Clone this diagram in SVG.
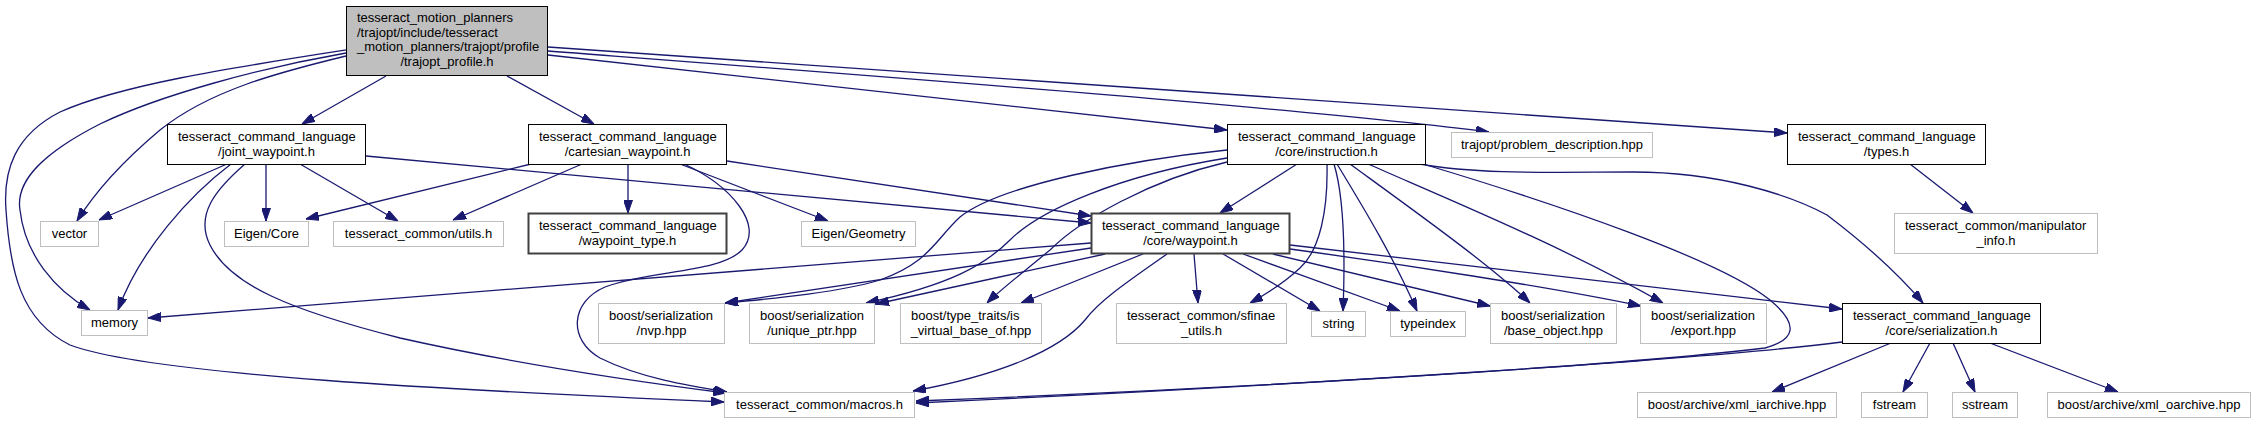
<svg xmlns="http://www.w3.org/2000/svg" width="2256" height="424" viewBox="0 0 2256 424">
<style>
text{font-family:"Liberation Sans",Arial,Helvetica,sans-serif;font-size:13px;fill:#000}
.c{text-anchor:middle}
.l{text-anchor:start}
rect{stroke-width:1}
.main rect{fill:#bfbfbf;stroke:#000}
.doc rect{fill:#fff;stroke:#000}
.dark rect{fill:#fff;stroke:#404040;stroke-width:2}
.ext rect{fill:#fff;stroke:#bfbfbf}
#edges path{fill:none;stroke:#191970;stroke-width:1.3;marker-end:url(#ah)}
</style>
<defs>
<marker id="ah" viewBox="0 0 13 9" refX="13" refY="4.5" markerWidth="13" markerHeight="9" markerUnits="userSpaceOnUse" orient="auto">
<path d="M0,0 L13,4.5 L0,9 z" fill="#191970" stroke="#191970" stroke-width="1"/>
</marker>
</defs>
<rect width="2256" height="424" fill="#fff"/>
<g id="edges">
<!-- main -->
<path d="M386,76 L302,124"/>
<path d="M507,76 L594,124"/>
<path d="M548,55 L1227,130"/>
<path d="M548,51 C900,78 1300,108 1489,132"/>
<path d="M548,47 L1787,133"/>
<path d="M346,56 C280,72 210,90 160,130 C122,162 95,192 77,221"/>
<path d="M346,53 C260,68 160,95 100,124 C45,152 15,180 20,210 C25,255 55,290 90,310"/>
<path d="M346,50 C230,68 120,85 60,112 C15,135 3,170 6,210 C10,270 20,320 70,345 C150,375 450,390 724,402"/>
<!-- joint -->
<path d="M227,164 L99,220"/>
<path d="M231,164 C190,195 140,250 118,310"/>
<path d="M245,164 C215,190 195,215 210,245 C230,285 290,310 400,338 C520,365 640,382 726,393"/>
<path d="M266,164 L266,221"/>
<path d="M300,164 L398,221"/>
<path d="M366,156 L1091,223"/>
<!-- cartesian -->
<path d="M531,164 L306,219"/>
<path d="M582,164 L453,220"/>
<path d="M628,164 L628,213"/>
<path d="M680,164 L828,221"/>
<path d="M684,164 C730,185 765,225 742,250 C720,273 650,270 605,287 C570,302 568,340 600,358 C640,378 690,386 727,392"/>
<path d="M727,161 L1091,216"/>
<!-- instruction -->
<path d="M1297,164 L1220,213"/>
<path d="M1227,150 C1130,160 1000,185 960,217 C935,240 930,262 880,280 C840,292 780,298 725,303"/>
<path d="M1227,158 C1120,175 1040,210 1010,240 C985,265 950,285 866,303"/>
<path d="M1227,162 C1150,180 1080,220 1050,250 C1020,275 1000,290 987,303"/>
<path d="M1327,164 C1328,210 1320,250 1300,268 C1285,282 1270,292 1250,303"/>
<path d="M1334,164 C1345,200 1345,260 1343,311"/>
<path d="M1337,164 C1365,210 1395,260 1417,311"/>
<path d="M1350,164 C1420,215 1490,265 1530,303"/>
<path d="M1368,164 C1450,200 1560,245 1663,303"/>
<path d="M1420,164 C1480,175 1560,172 1633,172 C1720,172 1790,195 1827,215 C1860,240 1895,270 1923,303"/>
<path d="M1423,164 C1560,205 1720,260 1770,300 C1800,325 1795,340 1765,348 C1600,368 1200,390 916,401"/>
<!-- waypoint.h -->
<path d="M1091,243 L148,318"/>
<path d="M1091,248 L725,303"/>
<path d="M1105,254 L876,304"/>
<path d="M1143,254 L1021,303"/>
<path d="M1167,254 C1130,280 1100,300 1085,320 C1060,350 1000,375 913,391"/>
<path d="M1194,254 L1198,303"/>
<path d="M1223,254 L1320,311"/>
<path d="M1243,254 L1400,311"/>
<path d="M1273,254 L1490,306"/>
<path d="M1290,249 C1400,264 1550,287 1641,306"/>
<path d="M1290,245 L1842,309"/>
<!-- serialization -->
<path d="M1842,342 C1700,360 1300,385 916,403"/>
<path d="M1891,343 L1772,392"/>
<path d="M1930,343 L1903,392"/>
<path d="M1953,343 L1975,392"/>
<path d="M1990,343 L2118,392"/>
<!-- types -->
<path d="M1910,164 L1973,213"/>
</g>
<g id="n0" class="main"><rect x="346.5" y="6.5" width="201" height="69"/>
<text class="l" x="357" y="22">tesseract_motion_planners</text>
<text class="l" x="357" y="36.5">/trajopt/include/tesseract</text>
<text class="l" x="357" y="51">_motion_planners/trajopt/profile</text>
<text class="c" x="447" y="65.5">/trajopt_profile.h</text></g>
<g id="n1" class="doc"><rect x="167.5" y="124.5" width="198" height="40"/>
<text class="l" x="178" y="141">tesseract_command_language</text>
<text class="c" x="266.5" y="155.5">/joint_waypoint.h</text></g>
<g id="n2" class="doc"><rect x="528.5" y="124.5" width="198" height="40"/>
<text class="l" x="539" y="141">tesseract_command_language</text>
<text class="c" x="627.5" y="155.5">/cartesian_waypoint.h</text></g>
<g id="n3" class="doc"><rect x="1227.5" y="124.5" width="198" height="40"/>
<text class="l" x="1238" y="141">tesseract_command_language</text>
<text class="c" x="1326.5" y="155.5">/core/instruction.h</text></g>
<g id="n4" class="ext"><rect x="1451.5" y="132.5" width="201" height="25"/>
<text class="c" x="1552" y="149">trajopt/problem_description.hpp</text></g>
<g id="n5" class="doc"><rect x="1787.5" y="124.5" width="198" height="40"/>
<text class="l" x="1798" y="141">tesseract_command_language</text>
<text class="c" x="1886.5" y="155.5">/types.h</text></g>
<g id="n6" class="ext"><rect x="40.5" y="221.5" width="58" height="25"/>
<text class="c" x="69.5" y="238">vector</text></g>
<g id="n7" class="ext"><rect x="224.5" y="221.5" width="84" height="25"/>
<text class="c" x="266.5" y="238">Eigen/Core</text></g>
<g id="n8" class="ext"><rect x="333.5" y="221.5" width="170" height="25"/>
<text class="c" x="418.5" y="238">tesseract_common/utils.h</text></g>
<g id="n9" class="dark"><rect x="528.5" y="213.5" width="198" height="40"/>
<text class="l" x="539" y="230">tesseract_command_language</text>
<text class="c" x="627.5" y="244.5">/waypoint_type.h</text></g>
<g id="n10" class="ext"><rect x="801.5" y="221.5" width="114" height="25"/>
<text class="c" x="858.5" y="238">Eigen/Geometry</text></g>
<g id="n11" class="dark"><rect x="1091.5" y="213.5" width="198" height="40"/>
<text class="l" x="1102" y="230">tesseract_command_language</text>
<text class="c" x="1190.5" y="244.5">/core/waypoint.h</text></g>
<g id="n12" class="ext"><rect x="1894.5" y="213.5" width="203" height="40"/>
<text class="l" x="1905" y="230">tesseract_common/manipulator</text>
<text class="c" x="1996" y="244.5">_info.h</text></g>
<g id="n13" class="ext"><rect x="81.5" y="310.5" width="66" height="25"/>
<text class="c" x="114.5" y="327">memory</text></g>
<g id="n14" class="ext"><rect x="598.5" y="303.5" width="126" height="40"/>
<text class="l" x="609" y="320">boost/serialization</text>
<text class="c" x="661.5" y="334.5">/nvp.hpp</text></g>
<g id="n15" class="ext"><rect x="749.5" y="303.5" width="125" height="40"/>
<text class="l" x="760" y="320">boost/serialization</text>
<text class="c" x="812" y="334.5">/unique_ptr.hpp</text></g>
<g id="n16" class="ext"><rect x="900.5" y="303.5" width="141" height="40"/>
<text class="l" x="911" y="320">boost/type_traits/is</text>
<text class="c" x="971" y="334.5">_virtual_base_of.hpp</text></g>
<g id="n17" class="ext"><rect x="1116.5" y="303.5" width="170" height="40"/>
<text class="l" x="1127" y="320">tesseract_common/sfinae</text>
<text class="c" x="1201.5" y="334.5">_utils.h</text></g>
<g id="n18" class="ext"><rect x="1311.5" y="311.5" width="54" height="25"/>
<text class="c" x="1338.5" y="328">string</text></g>
<g id="n19" class="ext"><rect x="1390.5" y="311.5" width="75" height="25"/>
<text class="c" x="1428" y="328">typeindex</text></g>
<g id="n20" class="ext"><rect x="1490.5" y="303.5" width="126" height="40"/>
<text class="l" x="1501" y="320">boost/serialization</text>
<text class="c" x="1553.5" y="334.5">/base_object.hpp</text></g>
<g id="n21" class="ext"><rect x="1640.5" y="303.5" width="126" height="40"/>
<text class="l" x="1651" y="320">boost/serialization</text>
<text class="c" x="1703.5" y="334.5">/export.hpp</text></g>
<g id="n22" class="doc"><rect x="1842.5" y="303.5" width="198" height="40"/>
<text class="l" x="1853" y="320">tesseract_command_language</text>
<text class="c" x="1941.5" y="334.5">/core/serialization.h</text></g>
<g id="n23" class="ext"><rect x="724.5" y="392.5" width="190" height="25"/>
<text class="c" x="819.5" y="409">tesseract_common/macros.h</text></g>
<g id="n24" class="ext"><rect x="1637.5" y="392.5" width="199" height="25"/>
<text class="c" x="1737" y="409">boost/archive/xml_iarchive.hpp</text></g>
<g id="n25" class="ext"><rect x="1861.5" y="392.5" width="66" height="25"/>
<text class="c" x="1894.5" y="409">fstream</text></g>
<g id="n26" class="ext"><rect x="1952.5" y="392.5" width="65" height="25"/>
<text class="c" x="1985" y="409">sstream</text></g>
<g id="n27" class="ext"><rect x="2047.5" y="392.5" width="203" height="25"/>
<text class="c" x="2149" y="409">boost/archive/xml_oarchive.hpp</text></g>
</svg>
